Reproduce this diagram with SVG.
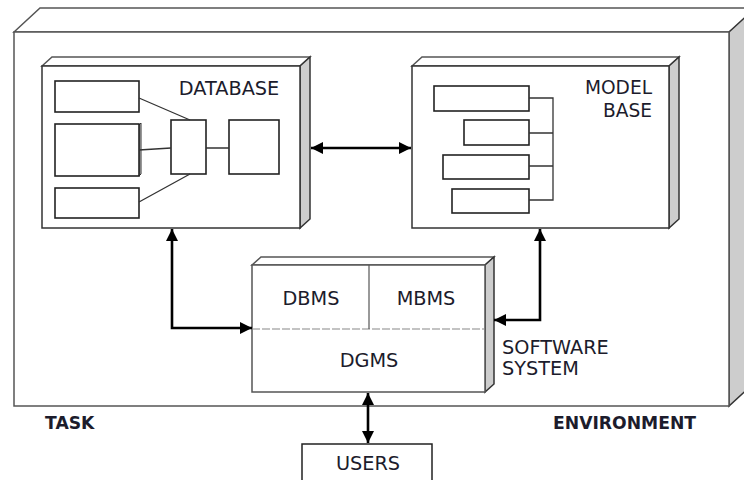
<svg xmlns="http://www.w3.org/2000/svg" width="744" height="480" viewBox="0 0 744 480">
<style>
.face{fill:#fff;stroke:#333;stroke-width:1.5;stroke-linejoin:miter}
.side{fill:#cdcdcd;stroke:#333;stroke-width:1.5}
.top{fill:#fff;stroke:#555;stroke-width:1.5}
.in{fill:#fff;stroke:#222;stroke-width:1.6}
.ln{fill:none;stroke:#333;stroke-width:1.3}
.conn{fill:none;stroke:#000;stroke-width:2.6}
text{font-family:"DejaVu Sans",Verdana,sans-serif;font-size:19.3px;fill:#1c1c2c}
.b{font-weight:bold;font-size:17.2px}
.m{text-anchor:middle}
.e{text-anchor:end;font-size:18.6px}
</style>
<defs>
<marker id="ah" viewBox="0 0 10 10" refX="10" refY="5" markerUnits="userSpaceOnUse" markerWidth="12" markerHeight="12" orient="auto-start-reverse">
<path d="M0,0 L10,5 L0,10 z" fill="#000"/>
</marker>
</defs>
<g id="environment">
<polygon class="top" points="14,32 40,8 760,8 729,32"/>
<polygon class="side" points="729,32 755,8 755,382 729,406"/>
<rect class="face" x="14" y="32" width="715" height="374" style="stroke:#555"/>
<text class="b" x="45" y="429">TASK</text>
<text class="b" x="553" y="429">ENVIRONMENT</text>
</g>
<g id="database">
<polygon class="top" points="42,66 52,57 310,57 300,66"/>
<polygon class="side" points="300,66 310,57 310,219 300,228"/>
<rect class="face" x="42" y="66" width="258" height="162"/>
<rect class="in" x="55" y="81" width="84" height="31"/>
<polygon class="side" points="139,125 141,123 141,174 139,176" style="stroke-width:1"/>
<rect class="in" x="55" y="124" width="84" height="52"/>
<rect class="in" x="55" y="188" width="84" height="30"/>
<rect class="in" x="171" y="120" width="35" height="54"/>
<rect class="in" x="229" y="120" width="50" height="54"/>
<path class="ln" d="M139,98 L190,120 M139,150 L171,148 M139,202 L190,174 M206,148 L229,148"/>
<text class="m" x="229" y="95">DATABASE</text>
</g>
<g id="modelbase">
<polygon class="top" points="412,66 422,57 679,57 669,66"/>
<polygon class="side" points="669,66 679,57 679,219 669,228"/>
<rect class="face" x="412" y="66" width="257" height="162"/>
<rect class="in" x="434" y="86" width="95" height="25"/>
<rect class="in" x="464" y="120" width="65" height="25"/>
<rect class="in" x="443" y="155" width="86" height="24"/>
<rect class="in" x="452" y="189" width="77" height="24"/>
<path class="ln" d="M529,98 L553,98 L553,200 L529,200 M529,133 L553,133 M529,166 L553,166"/>
<text class="e" x="652" y="94">MODEL</text>
<text class="e" x="652" y="117">BASE</text>
</g>
<g id="software">
<polygon class="top" points="252,265 261,257 494,257 485,265"/>
<polygon class="side" points="485,265 494,257 494,384 485,392"/>
<rect class="face" x="252" y="265" width="233" height="127" style="stroke:#555"/>
<path d="M252,329 L485,329" fill="none" stroke="#888" stroke-width="1.2" stroke-dasharray="8 2"/>
<path d="M369,265 L369,329" fill="none" stroke="#555" stroke-width="1.2"/>
<text class="m" x="311" y="305">DBMS</text>
<text class="m" x="426" y="305">MBMS</text>
<text class="m" x="369" y="367">DGMS</text>
<text x="502" y="354">SOFTWARE</text>
<text x="502" y="375">SYSTEM</text>
</g>
<g id="users">
<rect class="face" x="302" y="444" width="130" height="44" style="stroke:#222"/>
<text class="m" x="368" y="470">USERS</text>
</g>
<g id="connectors">
<path class="conn" d="M311,148 L411,148" marker-start="url(#ah)" marker-end="url(#ah)"/>
<path class="conn" d="M172,229 L172,328 L252,328" marker-start="url(#ah)" marker-end="url(#ah)"/>
<path class="conn" d="M540,229 L540,320 L494,320" marker-start="url(#ah)" marker-end="url(#ah)"/>
<path class="conn" d="M368,393 L368,443" marker-start="url(#ah)" marker-end="url(#ah)"/>
</g>
</svg>
